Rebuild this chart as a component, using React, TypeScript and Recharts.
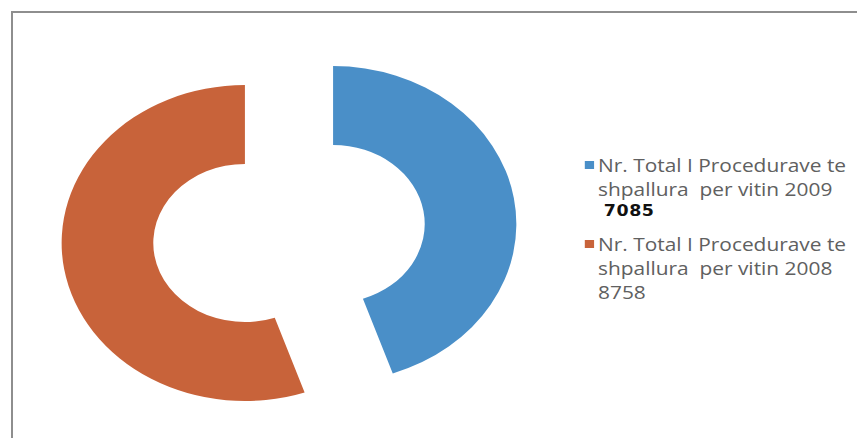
import { PieChart, Pie, Cell, Legend } from 'recharts';

const names = ['Nr. Total I Procedurave te shpallura  per vitin 2009', 'Nr. Total I Procedurave te shpallura  per vitin 2008'];
const values = [7085, 8758];
const colors = ['#4a8fc8', '#c8633a'];

const data = names.map((name, i) => ({ name, value: values[i] }));

// exploded donut: each slice drawn by its own pie, shifted along its mid angle
const CX = 289;
const CY = 234;
const STRETCH = 1.16; // the whole picture is stretched horizontally
const offsets = [
  { dx: 38, dy: -10 },
  { dx: -38, dy: 9 },
];

const renderLegend = () => (
  <div
    style={{
      fontFamily: '"Open Sans", sans-serif',
      fontSize: 18,
      color: '#606060',
      lineHeight: '24px',
      transform: `scaleX(${STRETCH})`,
      transformOrigin: '0 0',
      whiteSpace: 'pre',
    }}
  >
    {names.map((n, i) => {
      const [a, b] = n.split(' shpallura');
      return (
        <div key={n} style={{ position: 'relative', paddingLeft: 16.4, marginBottom: 11 }}>
          <span style={{ position: 'absolute', left: 5, top: 8, width: 8, height: 8, background: colors[i] }} />
          <div>{a}</div>
          <div>{'shpallura' + b}</div>
          {i === 0 ? (
            <div style={{ fontFamily: 'DejaVu Sans', fontWeight: 'bold', fontSize: 15, color: '#111', paddingLeft: 5, letterSpacing: 0.5, lineHeight: '20px' }}>
              {values[i]}
            </div>
          ) : (
            <div>{values[i]}</div>
          )}
        </div>
      );
    })}
  </div>
);

export default function App() {
  return (
    <div style={{ position: 'absolute', left: 0, top: 0, width: 857, height: 438, background: '#fff' }}>
      <style>{`g.recharts-pie { transform: scaleX(${STRETCH}); transform-origin: ${CX}px ${CY}px; }`}</style>
      <div style={{ position: 'absolute', left: 11, top: 11, right: 0, bottom: 0, borderTop: '2px solid #8e8e8e', borderLeft: '2px solid #8e8e8e' }} />
      <PieChart width={857} height={438} margin={{ top: 0, right: 0, bottom: 0, left: 0 }}>
        {offsets.map((o, k) => (
          <Pie
            key={k}
            data={data}
            dataKey="value"
            nameKey="name"
            cx={CX + o.dx}
            cy={CY + o.dy}
            innerRadius={79}
            outerRadius={158}
            startAngle={90}
            endAngle={-270}
            stroke="none"
            legendType="none"
            isAnimationActive={false}
          >
            {data.map((d, i) => (
              <Cell key={d.name} fill={i === k ? colors[i] : 'transparent'} />
            ))}
          </Pie>
        ))}
        <Legend
          content={renderLegend}
          wrapperStyle={{ left: 579, top: 153, width: 278 }}
        />
      </PieChart>
    </div>
  );
}
